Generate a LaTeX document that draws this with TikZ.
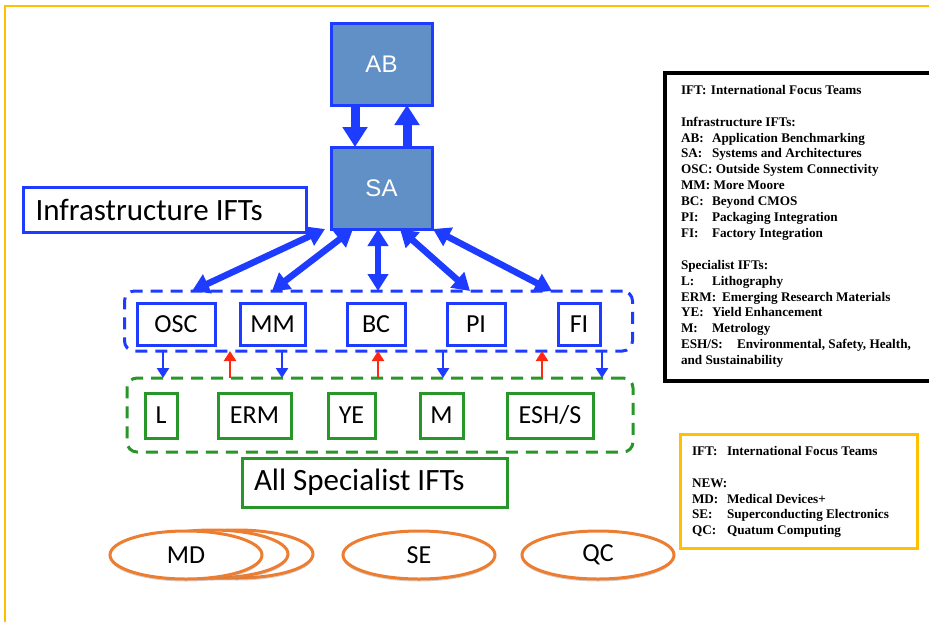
\documentclass[tikz,border=0pt]{standalone}
\usepackage{fontspec}
\setmainfont{Carlito}
\newfontfamily\arialfont{Liberation Sans}
\newfontfamily\legendfont{Liberation Serif}
\usetikzlibrary{arrows.meta,shadows,shapes.geometric}

\definecolor{ifblue}{RGB}{30,60,255}
\definecolor{ifsteel}{RGB}{96,144,198}
\definecolor{ifgreen}{RGB}{40,150,40}
\definecolor{ifred}{RGB}{255,40,20}
\definecolor{iforange}{RGB}{237,125,49}
\definecolor{ifgold}{RGB}{255,192,0}

\newcommand\lbl[2]{\makebox[#1pt][l]{#2}}

\tikzset{
  topbox/.style={draw=ifblue, line width=3pt, fill=ifsteel, text=white,
    font=\arialfont\fontsize{24}{27}\selectfont,
    minimum width=101pt, minimum height=82pt, inner sep=0pt, outer sep=0pt},
  infbox/.style={draw=ifblue, line width=3pt, fill=white,
    font=\fontsize{26}{30}\selectfont,
    minimum height=42pt, inner sep=0pt, outer sep=0pt},
  specbox/.style={draw=ifgreen, line width=3pt, fill=white,
    font=\fontsize{26}{30}\selectfont,
    minimum height=45pt, inner sep=0pt, outer sep=0pt},
  titlebox/.style={line width=3pt, fill=white,
    font=\fontsize{31}{34}\selectfont,
    inner sep=0pt, outer sep=0pt},
  groupbox/.style={dash pattern=on 12pt off 8pt, line width=3pt,
    rounded corners=10pt, inner sep=0pt, outer sep=0pt},
  newteam/.style={ellipse, draw=iforange, line width=3pt, fill=white,
    minimum width=152pt, minimum height=48pt, inner sep=0pt, outer sep=0pt,
    font=\fontsize{26}{30}\selectfont,
    drop shadow={shadow xshift=0pt, shadow yshift=-2.5pt, opacity=0.35}},
  hugearrow/.style={draw=ifblue, line width=9pt, -{Triangle[length=20pt,width=24pt]}},
  bigarrow/.style={draw=ifblue, line width=6.5pt},
  bighead/.tip={Triangle[length=17pt,width=20pt]},
  smallblue/.style={draw=ifblue, line width=2.8pt, -{Triangle[length=10pt,width=12pt]}},
  smallred/.style={draw=ifred, line width=2.8pt, -{Triangle[length=10pt,width=12pt]}},
  legendtext/.style={align=left, inner sep=0pt, outer sep=0pt,
    font=\legendfont\bfseries\fontsize{13.2}{15.9}\selectfont},
}

\begin{document}
\begin{tikzpicture}[x=1pt,y=-1pt]
\useasboundingbox (0,0) rectangle (929,622);
\clip (0,0) rectangle (929,622);
\fill[white] (0,0) rectangle (929,622);

% page frame
\draw[ifgold, line width=1.5pt] (5,622) -- (5,6) -- (929,6);

% top of the hierarchy
\node[topbox] (AB) at (381.5,64) {AB};
\node[topbox] (SA) at (381.5,188) {SA};
\draw[hugearrow] ([xshift=-26.5pt]AB.south) -- ([xshift=-26.5pt]SA.north);
\draw[hugearrow] ([xshift=25.5pt]SA.north) -- ([xshift=25.5pt]AB.south);

\node[titlebox, draw=ifblue, minimum width=283pt, minimum height=45pt]
  (infratitle) at (165,209.5) {\makebox[259pt][l]{Infrastructure IFTs}};

% infrastructure group
\node[groupbox, draw=ifblue, minimum width=508pt, minimum height=60pt]
  (infra) at (378.5,321) {};
\node[infbox, minimum width=78pt] (OSC) at (176,324) {OSC};
\node[infbox, minimum width=65pt] (MM)  at (272.5,324) {MM};
\node[infbox, minimum width=58pt] (BC)  at (376,324) {BC};
\node[infbox, minimum width=58pt] (PI)  at (476,324) {PI};
\node[infbox, minimum width=42pt] (FI)  at (579,324) {FI};

% SA to the infrastructure teams
\draw[bigarrow, bighead-bighead] (SA.south -| 325,0) -- (infra.north -| 192,0);
\draw[bigarrow, bighead-bighead] (SA.south -| 353,0) -- (infra.north -| 272,0);
\draw[bigarrow, bighead-bighead] (SA.south -| 378,0) -- (infra.north -| 378,0);
\draw[bigarrow, bighead-bighead] (SA.south -| 400,0) -- (infra.north -| 470,0);
\draw[bigarrow, bighead-bighead] (SA.south -| 433,0) -- (infra.north -| 552,0);

% specialist group
\node[groupbox, draw=ifgreen, minimum width=506pt, minimum height=74pt]
  (spec) at (380,415) {};
\node[specbox, minimum width=32pt] (L)    at (161,415.5) {L};
\node[specbox, minimum width=73pt] (ERM)  at (254.5,415.5) {ERM};
\node[specbox, minimum width=47pt] (YE)   at (351.5,415.5) {YE};
\node[specbox, minimum width=43pt] (M)    at (441.5,415.5) {M};
\node[specbox, minimum width=86pt] (ESHS) at (550,415.5) {ESH/S};

\node[titlebox, draw=ifgreen, minimum width=265pt, minimum height=49pt]
  (spectitle) at (374.5,482.5) {\makebox[241pt][l]{All Specialist IFTs}};

% links between the two groups
\draw[smallblue] (infra.south -| 163,0) -- (spec.north -| 163,0);
\draw[smallblue] (infra.south -| 282,0) -- (spec.north -| 282,0);
\draw[smallblue] (infra.south -| 443,0) -- (spec.north -| 443,0);
\draw[smallblue] (infra.south -| 602,0) -- (spec.north -| 602,0);
\draw[smallred] (spec.north -| 230,0) -- (infra.south -| 230,0);
\draw[smallred] (spec.north -| 378,0) -- (infra.south -| 378,0);
\draw[smallred] (spec.north -| 542,0) -- (infra.south -| 542,0);

% new teams
\node[newteam] (MDc) at (237,554) {};
\node[newteam] (MDb) at (212,554) {};
\node[newteam] (MD)  at (186,555) {MD};
\node[newteam] (SE)  at (419,555) {SE};
\node[newteam] (QC)  at (598,555) {QC};

% legend of all teams
\filldraw[draw=black, fill=white, line width=3.5pt,
  drop shadow={shadow xshift=1.5pt, shadow yshift=-1.5pt, opacity=0.4}]
  (665,73) rectangle (945,381);
\node[legendtext, anchor=north west] (legendall) at (681,85.2) {%
\lbl{30}{IFT:}International Focus Teams\\[15.9pt]
Infrastructure IFTs:\\
\lbl{31}{AB:}Application Benchmarking\\
\lbl{31}{SA:}Systems and Architectures\\
OSC: Outside System Connectivity\\
MM: More Moore\\
\lbl{31}{BC:}Beyond CMOS\\
\lbl{31}{PI:}Packaging Integration\\
\lbl{31}{FI:}Factory Integration\\[15.9pt]
Specialist IFTs:\\
\lbl{31}{L:}Lithography\\
\lbl{41}{ERM:}Emerging Research Materials\\
\lbl{31}{YE:}Yield Enhancement\\
\lbl{31}{M:}Metrology\\
\lbl{56}{ESH/S:}Environmental, Safety, Health,\\
and Sustainability};

% legend of the new teams
\filldraw[draw=ifgold, fill=white, line width=3pt,
  drop shadow={shadow xshift=1.5pt, shadow yshift=-1.5pt, fill=iforange, opacity=0.6}]
  (680,434) rectangle (917,548);
\node[legendtext, anchor=north west] (legendnew) at (692,446.2) {%
\lbl{35}{IFT:}International Focus Teams\\[15.9pt]
NEW:\\
\lbl{35}{MD:}Medical Devices+\\
\lbl{35}{SE:}Superconducting Electronics\\
\lbl{35}{QC:}Quatum Computing};
\end{tikzpicture}
\end{document}
